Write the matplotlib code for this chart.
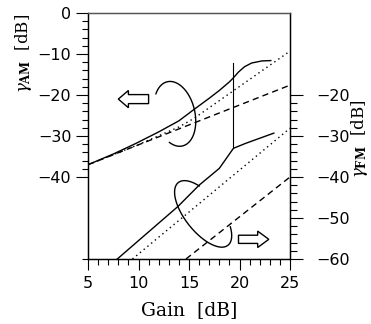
import numpy as np
import matplotlib
matplotlib.use("Agg")
import matplotlib.pyplot as plt
from matplotlib.patches import FancyArrow

plt.rcParams["mathtext.fontset"] = "dejavuserif"

# gamma_AM curves (left axis), gain in dB
am_solid_gain = [5, 7.5, 9.75, 12, 14.0, 15.4, 17.0, 18.0, 19.0, 19.4, 19.9, 20.5, 21.2, 22.2, 23.1]
am_solid_db = [-37, -34.4, -31.8, -29.0, -26.3, -23.7, -20.8, -18.9, -16.8, -15.8, -14.4, -13.1, -12.2, -11.7, -11.6]
am_dotted_gain = [5, 10, 14, 15.5, 17, 25]
am_dotted_db = [-37, -32.1, -27.8, -25.7, -23.1, -9.3]
am_dashed_gain = [5, 25]
am_dashed_db = [-37, -17.6]

# gamma_FM curves (right axis)
fm_solid_gain = [7.9, 13.9, 16.0, 18.0, 19.4, 20.6, 23.4]
fm_solid_db = [-60, -47.2, -42.0, -37.9, -33.0, -31.8, -29.3]
fm_dotted_gain = [9.4, 25]
fm_dotted_db = [-60, -28.1]
fm_dashed_gain = [14.7, 25]
fm_dashed_db = [-60, -40]

# vertical marker
vline_gain = 19.4
vline_db = [-12.3, -33.0]

W, H = 3.71, 3.24
fig = plt.figure(figsize=(W, H), dpi=100)
ax = fig.add_axes([88 / 371, 1 - 259 / 324, 202 / 371, 246 / 324])
ax.set_xlim(5, 25)
ax.set_ylim(-60, 0)

px_x = 202 / 20.0   # pixels per gain dB
px_y = 246 / 60.0   # pixels per level dB

lw = 1.0
ax.plot(am_solid_gain, am_solid_db, color="black", lw=lw)
ax.plot(am_dotted_gain, am_dotted_db, color="black", lw=lw, ls=(0, (1, 2.5)))
ax.plot(am_dashed_gain, am_dashed_db, color="black", lw=lw, ls=(0, (4.5, 3)))
ax.plot(fm_solid_gain, fm_solid_db, color="black", lw=lw)
ax.plot(fm_dotted_gain, fm_dotted_db, color="black", lw=lw, ls=(0, (1, 2.5)))
ax.plot(fm_dashed_gain, fm_dashed_db, color="black", lw=lw, ls=(0, (4.5, 3)))
ax.plot([vline_gain, vline_gain], vline_db, color="black", lw=0.8)


def loop(ax, cx, cy, a, b, ang, t0, t1):
    # open ellipse drawn in pixel space, mapped back to data units
    t = np.radians(np.linspace(t0, t1, 200))
    ang = np.radians(ang)
    u = np.array([np.cos(ang), np.sin(ang)])
    v = np.array([-np.sin(ang), np.cos(ang)])
    dx = a * np.cos(t) * u[0] + b * np.sin(t) * v[0]
    dy = a * np.cos(t) * u[1] + b * np.sin(t) * v[1]
    ax.plot(cx + dx / px_x, cy + dy / px_y, color="black", lw=1.0,
            solid_capstyle="round")


loop(ax, 13.6, -24.6, 20, 33, 13.4, -127, 134)
loop(ax, 16.4, -49.0, 18, 40, 38.4, 37, 318)

# hollow block arrows
ax.add_patch(FancyArrow(11.0, -21.0, -3.0, 0, width=2.2, head_width=4.2,
                        head_length=1.0, length_includes_head=True,
                        facecolor="white", edgecolor="black", lw=1.0))
ax.add_patch(FancyArrow(19.9, -55.2, 3.0, 0, width=2.0, head_width=4.0,
                        head_length=1.1, length_includes_head=True,
                        facecolor="white", edgecolor="black", lw=1.0))

tick_font = {"family": "DejaVu Sans", "size": 11.5}

ax.set_xticks([5, 10, 15, 20, 25])
ax.set_xticks(np.arange(5, 26, 1), minor=True)
ax.set_xticklabels(["5", "10", "15", "20", "25"], fontdict=tick_font)
ax.set_yticks([0, -10, -20, -30, -40])
ax.set_yticks([v for v in range(-40, 1, 2) if v % 10] + [-60], minor=True)
ax.set_yticklabels(["0", "\u221210", "\u221220", "\u221230", "\u221240"], fontdict=tick_font)
ax.tick_params(axis="x", which="major", direction="out", length=8, width=0.8, pad=4)
ax.tick_params(axis="x", which="minor", direction="out", length=4, width=0.8)
ax.tick_params(axis="y", which="major", direction="out", length=9, width=0.8, pad=3)
ax.tick_params(axis="y", which="minor", direction="out", length=4, width=0.8)

ax2 = ax.twinx()
ax2.set_ylim(-60, 0)
ax2.set_yticks([-20, -30, -40, -50, -60])
ax2.set_yticks([v for v in range(-60, -19, 2) if v % 10], minor=True)
ax2.set_yticklabels(["\u221220", "\u221230", "\u221240", "\u221250", "\u221260"], fontdict=tick_font)
ax2.tick_params(axis="y", which="major", direction="out", length=9, width=0.8, pad=10)
ax2.tick_params(axis="y", which="minor", direction="out", length=5, width=0.8)

for a_ in (ax, ax2):
    for s in a_.spines.values():
        s.set_linewidth(0.9)
ax.spines["top"].set_color("#555555")
ax2.spines["top"].set_color("#555555")

label_font = {"family": "DejaVu Serif", "size": 13.5}
fig.text(189 / 371, 1 - 310 / 324, "Gain  [dB]", ha="center", va="center", **label_font)
fig.text(23 / 371, 1 - 53 / 324, r"$\gamma_{\mathbf{AM}}$  [dB]", rotation=90,
         ha="center", va="center", family="DejaVu Serif", size=12)
fig.text(360 / 371, 1 - 139 / 324, r"$\gamma_{\mathbf{FM}}$  [dB]", rotation=90,
         ha="center", va="center", family="DejaVu Serif", size=12)

fig.savefig("out.png", dpi=100, facecolor="white")
